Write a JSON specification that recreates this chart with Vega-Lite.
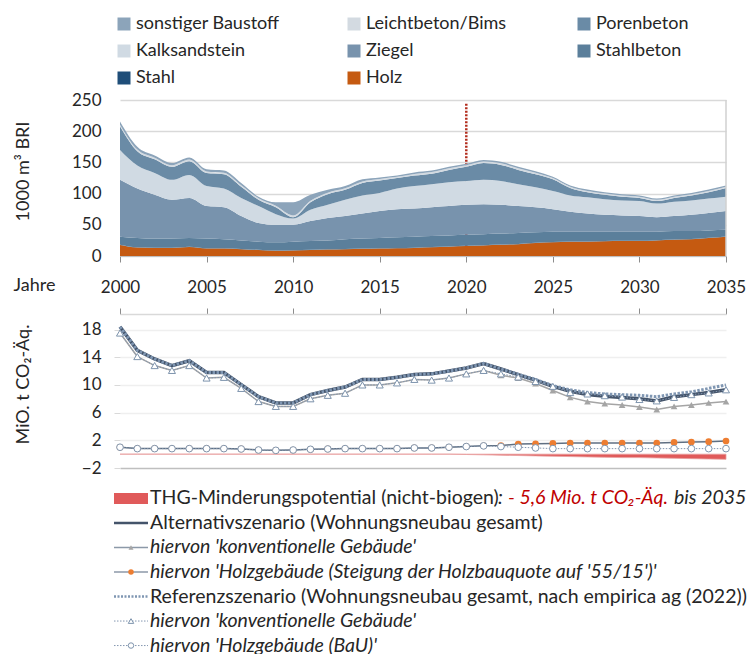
{
  "$schema": "https://vega.github.io/schema/vega-lite/v6.json",
  "background": "white",
  "padding": {"left": 13, "top": 15, "right": 0, "bottom": 0},
  "autosize": {"type": "pad"},
  "config": {
    "font": "Lato",
    "view": {"stroke": null},
    "axis": {"labelFont": "Lato", "titleFont": "Lato", "labelColor": "#262626", "titleColor": "#262626", "titleFontWeight": "normal"}
  },
  "datasets": {
    "bri": [
      {"Jahr":2000,"Holz":17.6,"Stahl":0.4,"Stahlbeton":13.0,"Ziegel":91,"Kalksandstein":48,"Porenbeton":38,"Leichtbeton/Bims":2.5,"sonstiger Baustoff":5.1},
      {"Jahr":2001,"Holz":13.5,"Stahl":0.4,"Stahlbeton":15.1,"Ziegel":79,"Kalksandstein":37,"Porenbeton":23,"Leichtbeton/Bims":2.5,"sonstiger Baustoff":4.5},
      {"Jahr":2002,"Holz":13,"Stahl":0.4,"Stahlbeton":14.6,"Ziegel":70,"Kalksandstein":35,"Porenbeton":22,"Leichtbeton/Bims":2.5,"sonstiger Baustoff":3.5},
      {"Jahr":2003,"Holz":13,"Stahl":0.4,"Stahlbeton":14.6,"Ziegel":62,"Kalksandstein":32,"Porenbeton":21,"Leichtbeton/Bims":2.5,"sonstiger Baustoff":3.5},
      {"Jahr":2004,"Holz":14.5,"Stahl":0.4,"Stahlbeton":14.1,"Ziegel":64,"Kalksandstein":37,"Porenbeton":22,"Leichtbeton/Bims":2.5,"sonstiger Baustoff":3.5},
      {"Jahr":2005,"Holz":12,"Stahl":0.4,"Stahlbeton":15.6,"Ziegel":52,"Kalksandstein":32,"Porenbeton":21,"Leichtbeton/Bims":2.5,"sonstiger Baustoff":3.5},
      {"Jahr":2006,"Holz":12,"Stahl":0.4,"Stahlbeton":14.6,"Ziegel":51,"Kalksandstein":30,"Porenbeton":23,"Leichtbeton/Bims":2.5,"sonstiger Baustoff":3.5},
      {"Jahr":2007,"Holz":11,"Stahl":0.4,"Stahlbeton":13.6,"Ziegel":39,"Kalksandstein":29,"Porenbeton":18,"Leichtbeton/Bims":2.5,"sonstiger Baustoff":3.5},
      {"Jahr":2008,"Holz":9.5,"Stahl":0.4,"Stahlbeton":13.1,"Ziegel":30,"Kalksandstein":27,"Porenbeton":10,"Leichtbeton/Bims":2.5,"sonstiger Baustoff":2.5},
      {"Jahr":2009,"Holz":8.5,"Stahl":0.4,"Stahlbeton":13.1,"Ziegel":28,"Kalksandstein":17,"Porenbeton":11,"Leichtbeton/Bims":2.5,"sonstiger Baustoff":5.5},
      {"Jahr":2010,"Holz":9,"Stahl":0.4,"Stahlbeton":13.6,"Ziegel":27,"Kalksandstein":10,"Porenbeton":2,"Leichtbeton/Bims":3,"sonstiger Baustoff":21},
      {"Jahr":2011,"Holz":9.5,"Stahl":0.4,"Stahlbeton":14.1,"Ziegel":32,"Kalksandstein":18,"Porenbeton":12,"Leichtbeton/Bims":2.5,"sonstiger Baustoff":9.5},
      {"Jahr":2012,"Holz":10.5,"Stahl":0.4,"Stahlbeton":14.1,"Ziegel":36,"Kalksandstein":21,"Porenbeton":17,"Leichtbeton/Bims":2.5,"sonstiger Baustoff":4.5},
      {"Jahr":2013,"Holz":11,"Stahl":0.4,"Stahlbeton":15.6,"Ziegel":37,"Kalksandstein":26,"Porenbeton":16,"Leichtbeton/Bims":2.5,"sonstiger Baustoff":3.5},
      {"Jahr":2014,"Holz":11.5,"Stahl":0.4,"Stahlbeton":16.1,"Ziegel":40,"Kalksandstein":29,"Porenbeton":20,"Leichtbeton/Bims":2.5,"sonstiger Baustoff":3.5},
      {"Jahr":2015,"Holz":12,"Stahl":0.4,"Stahlbeton":16.6,"Ziegel":43,"Kalksandstein":29,"Porenbeton":20,"Leichtbeton/Bims":2.5,"sonstiger Baustoff":2.5},
      {"Jahr":2016,"Holz":12.5,"Stahl":0.4,"Stahlbeton":17.1,"Ziegel":45,"Kalksandstein":33,"Porenbeton":17,"Leichtbeton/Bims":2,"sonstiger Baustoff":2},
      {"Jahr":2017,"Holz":13,"Stahl":0.4,"Stahlbeton":17.6,"Ziegel":45,"Kalksandstein":36,"Porenbeton":17,"Leichtbeton/Bims":2.5,"sonstiger Baustoff":2.5},
      {"Jahr":2018,"Holz":14,"Stahl":0.4,"Stahlbeton":17.6,"Ziegel":46,"Kalksandstein":37,"Porenbeton":17,"Leichtbeton/Bims":2.5,"sonstiger Baustoff":2.5},
      {"Jahr":2019,"Holz":15,"Stahl":0.4,"Stahlbeton":17.6,"Ziegel":47,"Kalksandstein":38,"Porenbeton":20,"Leichtbeton/Bims":2.5,"sonstiger Baustoff":2.5},
      {"Jahr":2020,"Holz":16,"Stahl":0.4,"Stahlbeton":17.6,"Ziegel":48,"Kalksandstein":38,"Porenbeton":23,"Leichtbeton/Bims":2.5,"sonstiger Baustoff":2.5},
      {"Jahr":2021,"Holz":17,"Stahl":0.4,"Stahlbeton":17.6,"Ziegel":48,"Kalksandstein":39,"Porenbeton":27,"Leichtbeton/Bims":2.5,"sonstiger Baustoff":2.5},
      {"Jahr":2022,"Holz":18,"Stahl":0.4,"Stahlbeton":17.6,"Ziegel":46,"Kalksandstein":38,"Porenbeton":26,"Leichtbeton/Bims":2.5,"sonstiger Baustoff":2.5},
      {"Jahr":2023,"Holz":19,"Stahl":0.4,"Stahlbeton":17.6,"Ziegel":43,"Kalksandstein":35,"Porenbeton":23,"Leichtbeton/Bims":2.5,"sonstiger Baustoff":2.5},
      {"Jahr":2024,"Holz":21,"Stahl":0.4,"Stahlbeton":16.6,"Ziegel":40,"Kalksandstein":32,"Porenbeton":21,"Leichtbeton/Bims":2.5,"sonstiger Baustoff":2.5},
      {"Jahr":2025,"Holz":22,"Stahl":0.4,"Stahlbeton":16.6,"Ziegel":36,"Kalksandstein":29,"Porenbeton":19,"Leichtbeton/Bims":2,"sonstiger Baustoff":2},
      {"Jahr":2026,"Holz":23,"Stahl":0.4,"Stahlbeton":15.6,"Ziegel":32,"Kalksandstein":26,"Porenbeton":12,"Leichtbeton/Bims":2,"sonstiger Baustoff":2},
      {"Jahr":2027,"Holz":23,"Stahl":0.4,"Stahlbeton":15.6,"Ziegel":29,"Kalksandstein":26,"Porenbeton":8,"Leichtbeton/Bims":2,"sonstiger Baustoff":2.5},
      {"Jahr":2028,"Holz":23.5,"Stahl":0.4,"Stahlbeton":15.1,"Ziegel":27,"Kalksandstein":25,"Porenbeton":7,"Leichtbeton/Bims":2,"sonstiger Baustoff":2},
      {"Jahr":2029,"Holz":24,"Stahl":0.4,"Stahlbeton":14.6,"Ziegel":26,"Kalksandstein":24,"Porenbeton":6,"Leichtbeton/Bims":2,"sonstiger Baustoff":2},
      {"Jahr":2030,"Holz":24,"Stahl":0.4,"Stahlbeton":14.6,"Ziegel":25,"Kalksandstein":24,"Porenbeton":5,"Leichtbeton/Bims":2,"sonstiger Baustoff":2},
      {"Jahr":2031,"Holz":25,"Stahl":0.4,"Stahlbeton":13.6,"Ziegel":23,"Kalksandstein":22,"Porenbeton":4,"Leichtbeton/Bims":2,"sonstiger Baustoff":2},
      {"Jahr":2032,"Holz":26,"Stahl":0.4,"Stahlbeton":13.6,"Ziegel":24,"Kalksandstein":23,"Porenbeton":6,"Leichtbeton/Bims":2,"sonstiger Baustoff":2},
      {"Jahr":2033,"Holz":27,"Stahl":0.4,"Stahlbeton":12.6,"Ziegel":26,"Kalksandstein":23,"Porenbeton":8,"Leichtbeton/Bims":2,"sonstiger Baustoff":2},
      {"Jahr":2034,"Holz":29,"Stahl":0.4,"Stahlbeton":11.6,"Ziegel":28,"Kalksandstein":23,"Porenbeton":10,"Leichtbeton/Bims":2,"sonstiger Baustoff":2.5},
      {"Jahr":2035,"Holz":31,"Stahl":0.4,"Stahlbeton":10.6,"Ziegel":30,"Kalksandstein":23,"Porenbeton":14,"Leichtbeton/Bims":2,"sonstiger Baustoff":2}
    ],
    "co2": [
      {"Jahr":2000,"AltGesamt":18.4,"AltKonv":17.5,"AltHolz":1.0,"RefGesamt":18.4,"RefKonv":17.5,"RefHolz":1.0,"Minderung":0},
      {"Jahr":2001,"AltGesamt":15.0,"AltKonv":14.1,"AltHolz":0.8,"RefGesamt":15.0,"RefKonv":14.1,"RefHolz":0.8,"Minderung":0},
      {"Jahr":2002,"AltGesamt":13.75,"AltKonv":12.8,"AltHolz":0.8,"RefGesamt":13.75,"RefKonv":12.8,"RefHolz":0.8,"Minderung":0},
      {"Jahr":2003,"AltGesamt":12.8,"AltKonv":12.1,"AltHolz":0.8,"RefGesamt":12.8,"RefKonv":12.1,"RefHolz":0.8,"Minderung":0},
      {"Jahr":2004,"AltGesamt":13.5,"AltKonv":12.8,"AltHolz":0.8,"RefGesamt":13.5,"RefKonv":12.8,"RefHolz":0.8,"Minderung":0},
      {"Jahr":2005,"AltGesamt":11.8,"AltKonv":11.0,"AltHolz":0.8,"RefGesamt":11.8,"RefKonv":11.0,"RefHolz":0.8,"Minderung":0},
      {"Jahr":2006,"AltGesamt":11.8,"AltKonv":11.1,"AltHolz":0.8,"RefGesamt":11.8,"RefKonv":11.1,"RefHolz":0.8,"Minderung":0},
      {"Jahr":2007,"AltGesamt":10.05,"AltKonv":9.5,"AltHolz":0.75,"RefGesamt":10.05,"RefKonv":9.5,"RefHolz":0.75,"Minderung":0},
      {"Jahr":2008,"AltGesamt":8.3,"AltKonv":7.6,"AltHolz":0.6,"RefGesamt":8.3,"RefKonv":7.6,"RefHolz":0.6,"Minderung":0},
      {"Jahr":2009,"AltGesamt":7.4,"AltKonv":6.9,"AltHolz":0.55,"RefGesamt":7.4,"RefKonv":6.9,"RefHolz":0.55,"Minderung":0},
      {"Jahr":2010,"AltGesamt":7.4,"AltKonv":6.9,"AltHolz":0.6,"RefGesamt":7.4,"RefKonv":6.9,"RefHolz":0.6,"Minderung":0},
      {"Jahr":2011,"AltGesamt":8.6,"AltKonv":8.0,"AltHolz":0.7,"RefGesamt":8.6,"RefKonv":8.0,"RefHolz":0.7,"Minderung":0},
      {"Jahr":2012,"AltGesamt":9.2,"AltKonv":8.5,"AltHolz":0.75,"RefGesamt":9.2,"RefKonv":8.5,"RefHolz":0.75,"Minderung":0},
      {"Jahr":2013,"AltGesamt":9.7,"AltKonv":8.8,"AltHolz":0.8,"RefGesamt":9.7,"RefKonv":8.8,"RefHolz":0.8,"Minderung":0},
      {"Jahr":2014,"AltGesamt":10.8,"AltKonv":10.0,"AltHolz":0.8,"RefGesamt":10.8,"RefKonv":10.0,"RefHolz":0.8,"Minderung":0},
      {"Jahr":2015,"AltGesamt":10.8,"AltKonv":10.0,"AltHolz":0.8,"RefGesamt":10.8,"RefKonv":10.0,"RefHolz":0.8,"Minderung":0},
      {"Jahr":2016,"AltGesamt":11.1,"AltKonv":10.3,"AltHolz":0.8,"RefGesamt":11.1,"RefKonv":10.3,"RefHolz":0.8,"Minderung":0},
      {"Jahr":2017,"AltGesamt":11.5,"AltKonv":10.8,"AltHolz":0.9,"RefGesamt":11.5,"RefKonv":10.8,"RefHolz":0.9,"Minderung":0},
      {"Jahr":2018,"AltGesamt":11.6,"AltKonv":10.7,"AltHolz":0.9,"RefGesamt":11.6,"RefKonv":10.7,"RefHolz":0.9,"Minderung":0},
      {"Jahr":2019,"AltGesamt":12.0,"AltKonv":11.0,"AltHolz":1.0,"RefGesamt":12.0,"RefKonv":11.0,"RefHolz":1.0,"Minderung":0},
      {"Jahr":2020,"AltGesamt":12.45,"AltKonv":11.6,"AltHolz":1.1,"RefGesamt":12.45,"RefKonv":11.6,"RefHolz":1.1,"Minderung":-0.05},
      {"Jahr":2021,"AltGesamt":13.1,"AltKonv":12.1,"AltHolz":1.2,"RefGesamt":13.1,"RefKonv":12.1,"RefHolz":1.2,"Minderung":-0.1},
      {"Jahr":2022,"AltGesamt":12.3,"AltKonv":11.4,"AltHolz":1.25,"RefGesamt":12.3,"RefKonv":11.6,"RefHolz":1.1,"Minderung":-0.15},
      {"Jahr":2023,"AltGesamt":11.5,"AltKonv":11.0,"AltHolz":1.45,"RefGesamt":11.55,"RefKonv":11.15,"RefHolz":1.0,"Minderung":-0.2},
      {"Jahr":2024,"AltGesamt":10.7,"AltKonv":10.2,"AltHolz":1.5,"RefGesamt":10.8,"RefKonv":10.5,"RefHolz":0.9,"Minderung":-0.25},
      {"Jahr":2025,"AltGesamt":9.8,"AltKonv":9.2,"AltHolz":1.55,"RefGesamt":9.9,"RefKonv":9.8,"RefHolz":0.8,"Minderung":-0.3},
      {"Jahr":2026,"AltGesamt":9.1,"AltKonv":8.2,"AltHolz":1.6,"RefGesamt":9.3,"RefKonv":8.9,"RefHolz":0.8,"Minderung":-0.35},
      {"Jahr":2027,"AltGesamt":8.6,"AltKonv":7.6,"AltHolz":1.6,"RefGesamt":8.9,"RefKonv":8.7,"RefHolz":0.8,"Minderung":-0.4},
      {"Jahr":2028,"AltGesamt":8.35,"AltKonv":7.3,"AltHolz":1.6,"RefGesamt":8.7,"RefKonv":8.45,"RefHolz":0.8,"Minderung":-0.45},
      {"Jahr":2029,"AltGesamt":8.2,"AltKonv":7.1,"AltHolz":1.6,"RefGesamt":8.6,"RefKonv":8.25,"RefHolz":0.8,"Minderung":-0.5},
      {"Jahr":2030,"AltGesamt":8.0,"AltKonv":6.8,"AltHolz":1.6,"RefGesamt":8.5,"RefKonv":7.9,"RefHolz":0.8,"Minderung":-0.5},
      {"Jahr":2031,"AltGesamt":7.7,"AltKonv":6.45,"AltHolz":1.6,"RefGesamt":8.3,"RefKonv":7.7,"RefHolz":0.8,"Minderung":-0.55},
      {"Jahr":2032,"AltGesamt":8.3,"AltKonv":6.9,"AltHolz":1.7,"RefGesamt":8.7,"RefKonv":8.2,"RefHolz":0.8,"Minderung":-0.6},
      {"Jahr":2033,"AltGesamt":8.6,"AltKonv":7.1,"AltHolz":1.75,"RefGesamt":9.0,"RefKonv":8.6,"RefHolz":0.8,"Minderung":-0.65},
      {"Jahr":2034,"AltGesamt":8.9,"AltKonv":7.4,"AltHolz":1.8,"RefGesamt":9.5,"RefKonv":8.85,"RefHolz":0.8,"Minderung":-0.7},
      {"Jahr":2035,"AltGesamt":9.3,"AltKonv":7.6,"AltHolz":1.9,"RefGesamt":10.0,"RefKonv":9.3,"RefHolz":0.8,"Minderung":-0.75}
    ],
    "leg": [
      {"Zeile":1,"Teil":1,"Text":"THG-Minderungspotential (nicht-biogen)"},
      {"Zeile":1,"Teil":2,"Text":":"},
      {"Zeile":1,"Teil":3,"Text":"- 5,6 Mio. t CO₂-Äq."},
      {"Zeile":1,"Teil":4,"Text":"bis 2035"},
      {"Zeile":2,"Teil":1,"Text":"Alternativszenario (Wohnungsneubau gesamt)"},
      {"Zeile":3,"Teil":1,"Text":"hiervon 'konventionelle Gebäude'"},
      {"Zeile":4,"Teil":1,"Text":"hiervon 'Holzgebäude (Steigung der Holzbauquote auf '55/15')'"},
      {"Zeile":5,"Teil":1,"Text":"Referenzszenario (Wohnungsneubau gesamt, nach empirica ag (2022))"},
      {"Zeile":6,"Teil":1,"Text":"hiervon 'konventionelle Gebäude'"},
      {"Zeile":7,"Teil":1,"Text":"hiervon 'Holzgebäude (BaU)'"}
    ]
  },
  "resolve": {"scale": {"color": "independent", "x": "independent", "y": "independent"}, "legend": {"color": "independent"}},
  "spacing": 12,
  "vconcat": [
    {
      "width": 606,
      "height": 156,
      "layer": [
        {
          "data": {"values": [{}]},
          "mark": {"type": "rule", "color": "#B22C1C", "strokeWidth": 2.5, "strokeDash": [2, 1.5]},
          "encoding": {
            "x": {"datum": 2020, "type": "quantitative", "scale": {"domain": [2000, 2035], "nice": false, "zero": false},
              "axis": {"values": [2000, 2005, 2010, 2015, 2020, 2025, 2030, 2035], "format": "d", "labelFontSize": 17, "labelPadding": 17, "labelFlush": false, "labelOverlap": false, "tickSize": 6, "tickColor": "#8C8C8C", "domainColor": "#BFBFBF", "grid": false,
                "title": "Jahre", "titleX": -107, "titleY": 29, "titleAlign": "left", "titleBaseline": "middle", "titleFontSize": 18, "titleAnchor": "start"}},
            "y": {"datum": 244, "type": "quantitative", "scale": {"domain": [0, 250], "nice": false},
              "axis": {"values": [0, 50, 100, 150, 200, 250], "labelFontSize": 17, "labelPadding": 19, "labelOverlap": false, "ticks": false, "domain": false, "grid": true, "gridColor": "#D9D9D9", "gridWidth": 1.5,
                "title": "1000 m³ BRI", "titleX": -97, "titleY": 71, "titleAngle": -90, "titleAlign": "center", "titleBaseline": "middle", "titleFontSize": 18}},
            "y2": {"datum": 0}
          }
        },
        {
          "data": {"name": "bri"},
          "transform": [
            {"fold": ["Holz", "Stahl", "Stahlbeton", "Ziegel", "Kalksandstein", "Porenbeton", "Leichtbeton/Bims", "sonstiger Baustoff"], "as": ["Material", "BRI"]},
            {"calculate": "indexof(['Holz', 'Stahl', 'Stahlbeton', 'Ziegel', 'Kalksandstein', 'Porenbeton', 'Leichtbeton/Bims', 'sonstiger Baustoff'], datum.Material)", "as": "Schicht"}
          ],
          "mark": {"type": "area", "interpolate": "monotone"},
          "encoding": {
            "x": {"field": "Jahr", "type": "quantitative", "scale": {"domain": [2000, 2035], "nice": false, "zero": false},
              "axis": {"values": [2000, 2005, 2010, 2015, 2020, 2025, 2030, 2035], "format": "d", "labelFontSize": 17, "labelPadding": 17, "labelFlush": false, "labelOverlap": false, "tickSize": 6, "tickColor": "#8C8C8C", "domainColor": "#BFBFBF", "grid": false,
                "title": "Jahre", "titleX": -107, "titleY": 29, "titleAlign": "left", "titleBaseline": "middle", "titleFontSize": 18, "titleAnchor": "start"}},
            "y": {"field": "BRI", "type": "quantitative", "stack": "zero", "scale": {"domain": [0, 250], "nice": false},
              "axis": {"values": [0, 50, 100, 150, 200, 250], "labelFontSize": 17, "labelPadding": 19, "labelOverlap": false, "ticks": false, "domain": false, "grid": true, "gridColor": "#D9D9D9", "gridWidth": 1.5,
                "title": "1000 m³ BRI", "titleX": -97, "titleY": 71, "titleAngle": -90, "titleAlign": "center", "titleBaseline": "middle", "titleFontSize": 18}},
            "order": {"field": "Schicht", "type": "quantitative", "sort": "ascending"},
            "color": {"field": "Material", "type": "nominal",
              "scale": {"domain": ["sonstiger Baustoff", "Leichtbeton/Bims", "Porenbeton", "Kalksandstein", "Ziegel", "Stahlbeton", "Stahl", "Holz"],
                "range": ["#8CA4BA", "#D3DAE1", "#6A8BA6", "#D0DAE3", "#7893AD", "#5B7F9B", "#1F4E79", "#C55A11"]},
              "legend": {"orient": "none", "legendX": -5, "legendY": -85, "direction": "horizontal", "columns": 3, "title": null, "symbolType": "square", "symbolSize": 169, "symbolStrokeWidth": 0, "symbolOpacity": 1, "labelFontSize": 18, "labelFont": "Lato", "labelColor": "#262626", "labelOffset": 3, "columnPadding": 65, "rowPadding": 9, "gridAlign": "all", "padding": 0, "labelLimit": 400}}
          }
        },
        {
          "data": {"values": [{}]},
          "mark": {"type": "rule", "color": "#D0D0D0", "strokeWidth": 1.5},
          "encoding": {
            "x": {"datum": 2035, "type": "quantitative", "scale": {"domain": [2000, 2035], "nice": false, "zero": false},
              "axis": {"values": [2000, 2005, 2010, 2015, 2020, 2025, 2030, 2035], "format": "d", "labelFontSize": 17, "labelPadding": 17, "labelFlush": false, "labelOverlap": false, "tickSize": 6, "tickColor": "#8C8C8C", "domainColor": "#BFBFBF", "grid": false,
                "title": "Jahre", "titleX": -107, "titleY": 29, "titleAlign": "left", "titleBaseline": "middle", "titleFontSize": 18, "titleAnchor": "start"}},
            "y": {"datum": 0, "type": "quantitative", "scale": {"domain": [0, 250], "nice": false},
              "axis": {"values": [0, 50, 100, 150, 200, 250], "labelFontSize": 17, "labelPadding": 19, "labelOverlap": false, "ticks": false, "domain": false, "grid": true, "gridColor": "#D9D9D9", "gridWidth": 1.5,
                "title": "1000 m³ BRI", "titleX": -97, "titleY": 71, "titleAngle": -90, "titleAlign": "center", "titleBaseline": "middle", "titleFontSize": 18}},
            "y2": {"datum": 250}
          }
        }
      ]
    },
    {
      "width": 606,
      "height": 154,
      "data": {"name": "co2"},
      "transform": [{"fold": ["AltGesamt", "AltKonv", "AltHolz", "RefGesamt", "RefKonv", "RefHolz", "Minderung"], "as": ["Reihe", "Wert"]}],
      "encoding": {
        "x": {"field": "Jahr", "type": "quantitative", "scale": {"domain": [2000, 2035], "nice": false, "zero": false},
          "axis": {"orient": "top", "values": [2000, 2005, 2010, 2015, 2020, 2025, 2030, 2035], "labels": false, "ticks": true, "tickSize": 6, "tickColor": "#8C8C8C", "domain": true, "domainColor": "#D9D9D9", "domainWidth": 1.5, "grid": false, "title": null}},
        "y": {"field": "Wert", "type": "quantitative", "scale": {"domain": [-2, 20.25], "nice": false, "zero": false},
          "axis": {"values": [-2, 2, 6, 10, 14, 18], "labelFontSize": 17, "labelPadding": 13, "labelOverlap": false, "tickSize": 6, "tickColor": "#D9D9D9", "domain": false, "grid": true,
            "gridColor": {"condition": {"test": "datum.value === -2", "value": "#BFBFBF"}, "value": "#EFEFEF"}, "gridWidth": 1.5,
            "title": "MiO. t CO₂-Äq.", "titleX": -97, "titleY": 70, "titleAngle": -90, "titleAlign": "center", "titleBaseline": "middle", "titleFontSize": 18}}
      },
      "layer": [
        {
          "transform": [{"filter": "datum.Reihe === 'Minderung'"}],
          "mark": {"type": "area", "color": "#E05A5A", "stroke": "#E8A0A0", "strokeWidth": 0.8, "opacity": 1},
          "encoding": {"y2": {"datum": 0}}
        },
        {
          "transform": [{"filter": "datum.Reihe === 'AltKonv'"}],
          "mark": {"type": "line", "color": "#A5A5A5", "strokeWidth": 1.5, "point": {"shape": "triangle-up", "filled": true, "color": "#A5A5A5", "size": 45}}
        },
        {
          "transform": [{"filter": "datum.Reihe === 'AltHolz'"}],
          "mark": {"type": "line", "color": "#5F6F82", "strokeWidth": 1.5, "point": {"shape": "circle", "filled": true, "color": "#ED7D31", "size": 45}}
        },
        {
          "transform": [{"filter": "datum.Reihe === 'AltGesamt'"}],
          "mark": {"type": "line", "color": "#44546A", "strokeWidth": 3.5}
        },
        {
          "transform": [{"filter": "datum.Reihe === 'RefGesamt'"}],
          "mark": {"type": "line", "color": "#7F96B2", "strokeWidth": 3, "strokeDash": [2.5, 1.5]}
        },
        {
          "transform": [{"filter": "datum.Reihe === 'RefKonv'"}],
          "mark": {"type": "line", "color": "#8497B0", "strokeWidth": 1, "strokeDash": [1.5, 1.5], "point": {"shape": "triangle-up", "filled": true, "fill": "white", "stroke": "#7F95AE", "strokeWidth": 1, "size": 50}}
        },
        {
          "transform": [{"filter": "datum.Reihe === 'RefHolz'"}],
          "mark": {"type": "line", "color": "#8497B0", "strokeWidth": 1, "strokeDash": [1.5, 1.5], "point": {"shape": "circle", "filled": true, "fill": "white", "stroke": "#7F95AE", "strokeWidth": 1, "size": 45}}
        },
        {
          "data": {"values": [{}]},
          "mark": {"type": "rule", "color": "#BFBFBF", "strokeWidth": 1.5},
          "encoding": {
            "x": {"datum": 2035, "type": "quantitative", "scale": {"domain": [2000, 2035], "nice": false, "zero": false},
              "axis": {"orient": "top", "values": [2000, 2005, 2010, 2015, 2020, 2025, 2030, 2035], "labels": false, "ticks": true, "tickSize": 6, "tickColor": "#8C8C8C", "domain": true, "domainColor": "#D9D9D9", "domainWidth": 1.5, "grid": false, "title": null}},
            "y": {"datum": -2, "type": "quantitative", "scale": {"domain": [-2, 20.25], "nice": false, "zero": false},
              "axis": {"values": [-2, 2, 6, 10, 14, 18], "labelFontSize": 17, "labelPadding": 13, "labelOverlap": false, "tickSize": 6, "tickColor": "#D9D9D9", "domain": false, "grid": true,
                "gridColor": {"condition": {"test": "datum.value === -2", "value": "#BFBFBF"}, "value": "#EFEFEF"}, "gridWidth": 1.5,
                "title": "MiO. t CO₂-Äq.", "titleX": -97, "titleY": 70, "titleAngle": -90, "titleAlign": "center", "titleBaseline": "middle", "titleFontSize": 18}},
            "y2": {"datum": 20.25}
          }
        },
        {
          "data": {"values": [{}]},
          "mark": {"type": "rule", "color": "#B22C1C", "strokeWidth": 2.5, "strokeDash": [2, 1.5]},
          "encoding": {
            "x": {"datum": 2020, "type": "quantitative", "scale": {"domain": [2000, 2035], "nice": false, "zero": false},
              "axis": {"orient": "top", "values": [2000, 2005, 2010, 2015, 2020, 2025, 2030, 2035], "labels": false, "ticks": true, "tickSize": 6, "tickColor": "#8C8C8C", "domain": true, "domainColor": "#D9D9D9", "domainWidth": 1.5, "grid": false, "title": null}},
            "y": {"datum": 20.25, "type": "quantitative", "scale": {"domain": [-2, 20.25], "nice": false, "zero": false},
              "axis": {"values": [-2, 2, 6, 10, 14, 18], "labelFontSize": 17, "labelPadding": 13, "labelOverlap": false, "tickSize": 6, "tickColor": "#D9D9D9", "domain": false, "grid": true,
                "gridColor": {"condition": {"test": "datum.value === -2", "value": "#BFBFBF"}, "value": "#EFEFEF"}, "gridWidth": 1.5,
                "title": "MiO. t CO₂-Äq.", "titleX": -97, "titleY": 70, "titleAngle": -90, "titleAlign": "center", "titleBaseline": "middle", "titleFontSize": 18}},
            "y2": {"datum": -1.6}
          }
        }
      ]
    },
    {
      "width": 606,
      "height": 152,
      "data": {"name": "leg"},
      "encoding": {"y": {"field": "Zeile", "type": "ordinal", "axis": null, "scale": {"type": "point", "padding": 0.1}}},
      "layer": [
        {
          "transform": [{"filter": "datum.Zeile === 1 && datum.Teil === 1"}],
          "mark": {"type": "rule", "color": "#E05A5A", "strokeWidth": 11, "strokeCap": "butt"},
          "encoding": {"x": {"value": -6}, "x2": {"value": 28}}
        },
        {
          "transform": [{"filter": "datum.Zeile === 2"}],
          "mark": {"type": "rule", "color": "#44546A", "strokeWidth": 2.5},
          "encoding": {"x": {"value": -6}, "x2": {"value": 28}}
        },
        {
          "transform": [{"filter": "datum.Zeile === 3 || datum.Zeile === 4"}],
          "mark": {"type": "rule", "color": "#8C99A8", "strokeWidth": 1.5},
          "encoding": {"x": {"value": -6}, "x2": {"value": 28}}
        },
        {
          "transform": [{"filter": "datum.Zeile === 3"}],
          "mark": {"type": "point", "shape": "triangle-up", "filled": true, "color": "#A5A5A5", "size": 25, "opacity": 1},
          "encoding": {"x": {"value": 11}}
        },
        {
          "transform": [{"filter": "datum.Zeile === 4"}],
          "mark": {"type": "point", "shape": "circle", "filled": true, "color": "#ED7D31", "size": 30, "opacity": 1},
          "encoding": {"x": {"value": 11}}
        },
        {
          "transform": [{"filter": "datum.Zeile === 5"}],
          "mark": {"type": "rule", "color": "#7F96B2", "strokeWidth": 2.5, "strokeDash": [2, 1.5]},
          "encoding": {"x": {"value": -6}, "x2": {"value": 28}}
        },
        {
          "transform": [{"filter": "datum.Zeile === 6 || datum.Zeile === 7"}],
          "mark": {"type": "rule", "color": "#8497B0", "strokeWidth": 1, "strokeDash": [1.5, 1.5]},
          "encoding": {"x": {"value": -6}, "x2": {"value": 28}}
        },
        {
          "transform": [{"filter": "datum.Zeile === 6"}],
          "mark": {"type": "point", "shape": "triangle-up", "filled": true, "fill": "white", "stroke": "#7F95AE", "strokeWidth": 1, "size": 30, "opacity": 1},
          "encoding": {"x": {"value": 11}}
        },
        {
          "transform": [{"filter": "datum.Zeile === 7"}],
          "mark": {"type": "point", "shape": "circle", "filled": true, "fill": "white", "stroke": "#7F95AE", "strokeWidth": 1, "size": 30, "opacity": 1},
          "encoding": {"x": {"value": 11}}
        },
        {
          "transform": [{"filter": "(datum.Zeile === 1 && datum.Teil === 1) || datum.Zeile === 2 || datum.Zeile === 5"}],
          "mark": {"type": "text", "align": "left", "baseline": "middle", "fontSize": 19.5, "font": "Lato", "color": "#262626"},
          "encoding": {"x": {"value": 30}, "text": {"field": "Text"}}
        },
        {
          "transform": [{"filter": "datum.Zeile === 3 || datum.Zeile === 4 || datum.Zeile === 6 || datum.Zeile === 7"}],
          "mark": {"type": "text", "align": "left", "baseline": "middle", "fontSize": 19.5, "font": "Lato", "fontStyle": "italic", "color": "#262626"},
          "encoding": {"x": {"value": 30}, "text": {"field": "Text"}}
        },
        {
          "transform": [{"filter": "datum.Zeile === 1 && datum.Teil === 2"}],
          "mark": {"type": "text", "align": "left", "baseline": "middle", "fontSize": 19.5, "font": "Lato", "fontStyle": "italic", "color": "#262626"},
          "encoding": {"x": {"value": 378}, "text": {"field": "Text"}}
        },
        {
          "transform": [{"filter": "datum.Zeile === 1 && datum.Teil === 3"}],
          "mark": {"type": "text", "align": "left", "baseline": "middle", "fontSize": 19.5, "font": "Lato", "fontStyle": "italic", "color": "#C00000"},
          "encoding": {"x": {"value": 388}, "text": {"field": "Text"}}
        },
        {
          "transform": [{"filter": "datum.Zeile === 1 && datum.Teil === 4"}],
          "mark": {"type": "text", "align": "left", "baseline": "middle", "fontSize": 19.5, "font": "Lato", "fontStyle": "italic", "color": "#262626"},
          "encoding": {"x": {"value": 554}, "text": {"field": "Text"}}
        }
      ]
    }
  ]
}
